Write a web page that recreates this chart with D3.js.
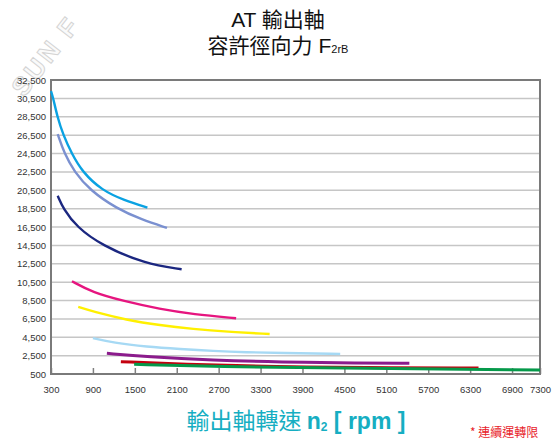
<!DOCTYPE html>
<html>
<head>
<meta charset="utf-8">
<script src="https://cdn.jsdelivr.net/npm/d3@7"></script>
<style>
  body { margin: 0; background: #fff; }
  svg { display: block; font-family: "Liberation Sans", Arial, sans-serif; }
</style>
</head>
<body>
<svg id="chart" width="555" height="439"></svg>
<script>

//x and y tick values of the chart
var xTicks = [300, 900, 1500, 2100, 2700, 3300, 3900, 4500, 5100, 5700, 6300, 6900, 7300];
var yTicks = [500, 2500, 4500, 6500, 8500, 10500, 12500, 14500, 16500, 18500, 20500, 22500, 24500, 26500, 28500, 30500, 32500];

//speed values [rpm]
var rpm1 = [300, 333, 390, 476, 596, 748, 1026, 1350, 1680];
var rpm2 = [396, 491, 634, 858, 1240, 1600, 1960];
var rpm3 = [396, 476, 668, 1026, 1645, 2170];
var rpm4 = [600, 900, 1335, 1860, 2340, 2950];
var rpm5 = [690, 900, 1380, 1860, 2340, 2810, 3430];
var rpm6 = [900, 1190, 1670, 2150, 2620, 3100, 3580, 4440];
var rpm7 = [1100, 1670, 2620, 3580, 4720, 5430];
var rpm8 = [1300, 2150, 3580, 4720, 6420];
var rpm9 = [1490, 2620, 4720, 7300];

//allowed radial force on each curve [N]
var force1 = [31300, 30500, 28500, 26500, 24500, 22500, 20500, 19400, 18600];
var force2 = [26600, 24500, 22500, 20500, 18500, 17300, 16400];
var force3 = [19900, 18500, 16500, 14500, 12500, 11900];
var force4 = [10600, 9350, 8450, 7550, 7000, 6570];
var force5 = [7800, 7300, 6380, 5800, 5400, 5100, 4850];
var force6 = [4400, 3900, 3470, 3220, 3000, 2860, 2790, 2680];
var force7 = [2750, 2380, 1990, 1800, 1700, 1660];
var force8 = [1840, 1560, 1300, 1190, 1150];
var force9 = [1560, 1300, 1120, 940];

var lineColors = ["#0aa2e2", "#7a90d0", "#1b2780", "#e6157f", "#fff000", "#a6d9f4", "#8b1b8c", "#c4000f", "#05994a"];

var curves = [
  [rpm1, force1], [rpm2, force2], [rpm3, force3],
  [rpm4, force4], [rpm5, force5], [rpm6, force6],
  [rpm7, force7], [rpm8, force8], [rpm9, force9]
];

//plot area
var margin = { top: 80, right: 15, bottom: 65, left: 51 };
var width = 555 - margin.left - margin.right,
    height = 439 - margin.top - margin.bottom;

var svg = d3.select("#chart");

//watermark in the top left corner
svg.append("text")
    .attr("transform", "translate(24,98) rotate(-52)")
    .attr("font-size", 26)
    .attr("font-weight", "bold")
    .attr("letter-spacing", 3)
    .attr("fill", "#fafafa")
    .attr("stroke", "#d4d4d4")
    .attr("stroke-width", 1)
    .text("SUN F");

var x = d3.scaleLinear().domain([300, 7300]).range([0, width]);
var y = d3.scaleLinear().domain([500, 32500]).range([height, 0]);

var g = svg.append("g")
    .attr("transform", "translate(" + margin.left + "," + margin.top + ")");

//horizontal grid lines
g.append("g")
    .selectAll("line")
    .data(yTicks.slice(1, -1))
    .enter().append("line")
    .attr("x1", 0)
    .attr("x2", width)
    .attr("y1", function (d) { return y(d); })
    .attr("y2", function (d) { return y(d); })
    .attr("stroke", "#c6c6c6")
    .attr("stroke-width", 1.5);

//y axis labels
var yAxis = g.append("g")
    .call(d3.axisLeft(y).tickValues(yTicks).tickSize(0).tickPadding(5).tickFormat(d3.format(",")));
yAxis.select(".domain").remove();
yAxis.selectAll("text")
    .attr("font-size", 9.5)
    .attr("fill", "#333")
    .attr("font-family", "Liberation Sans, Arial, sans-serif");

//x axis, ticks point up into the plot
var xAxis = g.append("g")
    .attr("transform", "translate(0," + height + ")")
    .call(d3.axisBottom(x).tickValues(xTicks).tickSizeInner(-6).tickSizeOuter(0).tickPadding(12).tickFormat(d3.format("d")));
xAxis.select(".domain").remove();
xAxis.selectAll("line").attr("stroke", "#808080").attr("stroke-width", 1.5);
xAxis.selectAll("text")
    .attr("font-size", 9.5)
    .attr("fill", "#333")
    .attr("font-family", "Liberation Sans, Arial, sans-serif");

//frame round the plot
g.append("rect")
    .attr("width", width)
    .attr("height", height)
    .attr("fill", "none")
    .attr("stroke", "#7a7a7a")
    .attr("stroke-width", 2);

//the curves
var line = d3.line()
    .x(function (d) { return x(d[0]); })
    .y(function (d) { return y(d[1]); })
    .curve(d3.curveBasis);

g.append("g")
    .selectAll("path")
    .data(curves)
    .enter().append("path")
    .attr("d", function (c) {
      return line(c[0].map(function (v, i) { return [v, c[1][i]]; }));
    })
    .attr("fill", "none")
    .attr("stroke", function (c, i) { return lineColors[i]; })
    .attr("stroke-width", function (c, i) { return i > 5 ? 3 : 2.4; })
    .attr("stroke-linecap", "butt");

//title
svg.append("text")
    .attr("x", 278)
    .attr("y", 27)
    .attr("text-anchor", "middle")
    .attr("font-size", 21)
    .attr("fill", "#111")
    .attr("font-family", "Liberation Sans, 'Noto Sans CJK TC', sans-serif")
    .text("AT 輸出軸");

var title2 = svg.append("text")
    .attr("x", 278)
    .attr("y", 53)
    .attr("text-anchor", "middle")
    .attr("font-size", 21)
    .attr("fill", "#111")
    .attr("font-family", "Liberation Sans, 'Noto Sans CJK TC', sans-serif");
title2.append("tspan").text("容許徑向力 F");
title2.append("tspan").attr("font-size", 11).text("2rB");

//x axis title
var xTitle = svg.append("text")
    .attr("x", 296)
    .attr("y", 429)
    .attr("text-anchor", "middle")
    .attr("fill", "#16aec2")
    .attr("font-family", "'Noto Sans CJK TC', Liberation Sans, sans-serif")
    .attr("font-size", 23);
xTitle.append("tspan").text("輸出軸轉速 ");
xTitle.append("tspan").attr("font-weight", "bold").attr("font-family", "Liberation Sans, Arial, sans-serif").text("n");
xTitle.append("tspan").attr("font-weight", "bold").attr("font-size", 12).attr("dy", 2).attr("font-family", "Liberation Sans, Arial, sans-serif").text("2");
xTitle.append("tspan").attr("font-weight", "bold").attr("dy", -2).attr("font-family", "Liberation Sans, Arial, sans-serif").text(" [ rpm ]");

//note at the bottom right
svg.append("text")
    .attr("x", 470)
    .attr("y", 437)
    .attr("fill", "#e8232b")
    .attr("font-size", 12)
    .attr("font-family", "'Noto Sans CJK TC', sans-serif")
    .text("* 連續運轉限");

</script>
</body>
</html>
